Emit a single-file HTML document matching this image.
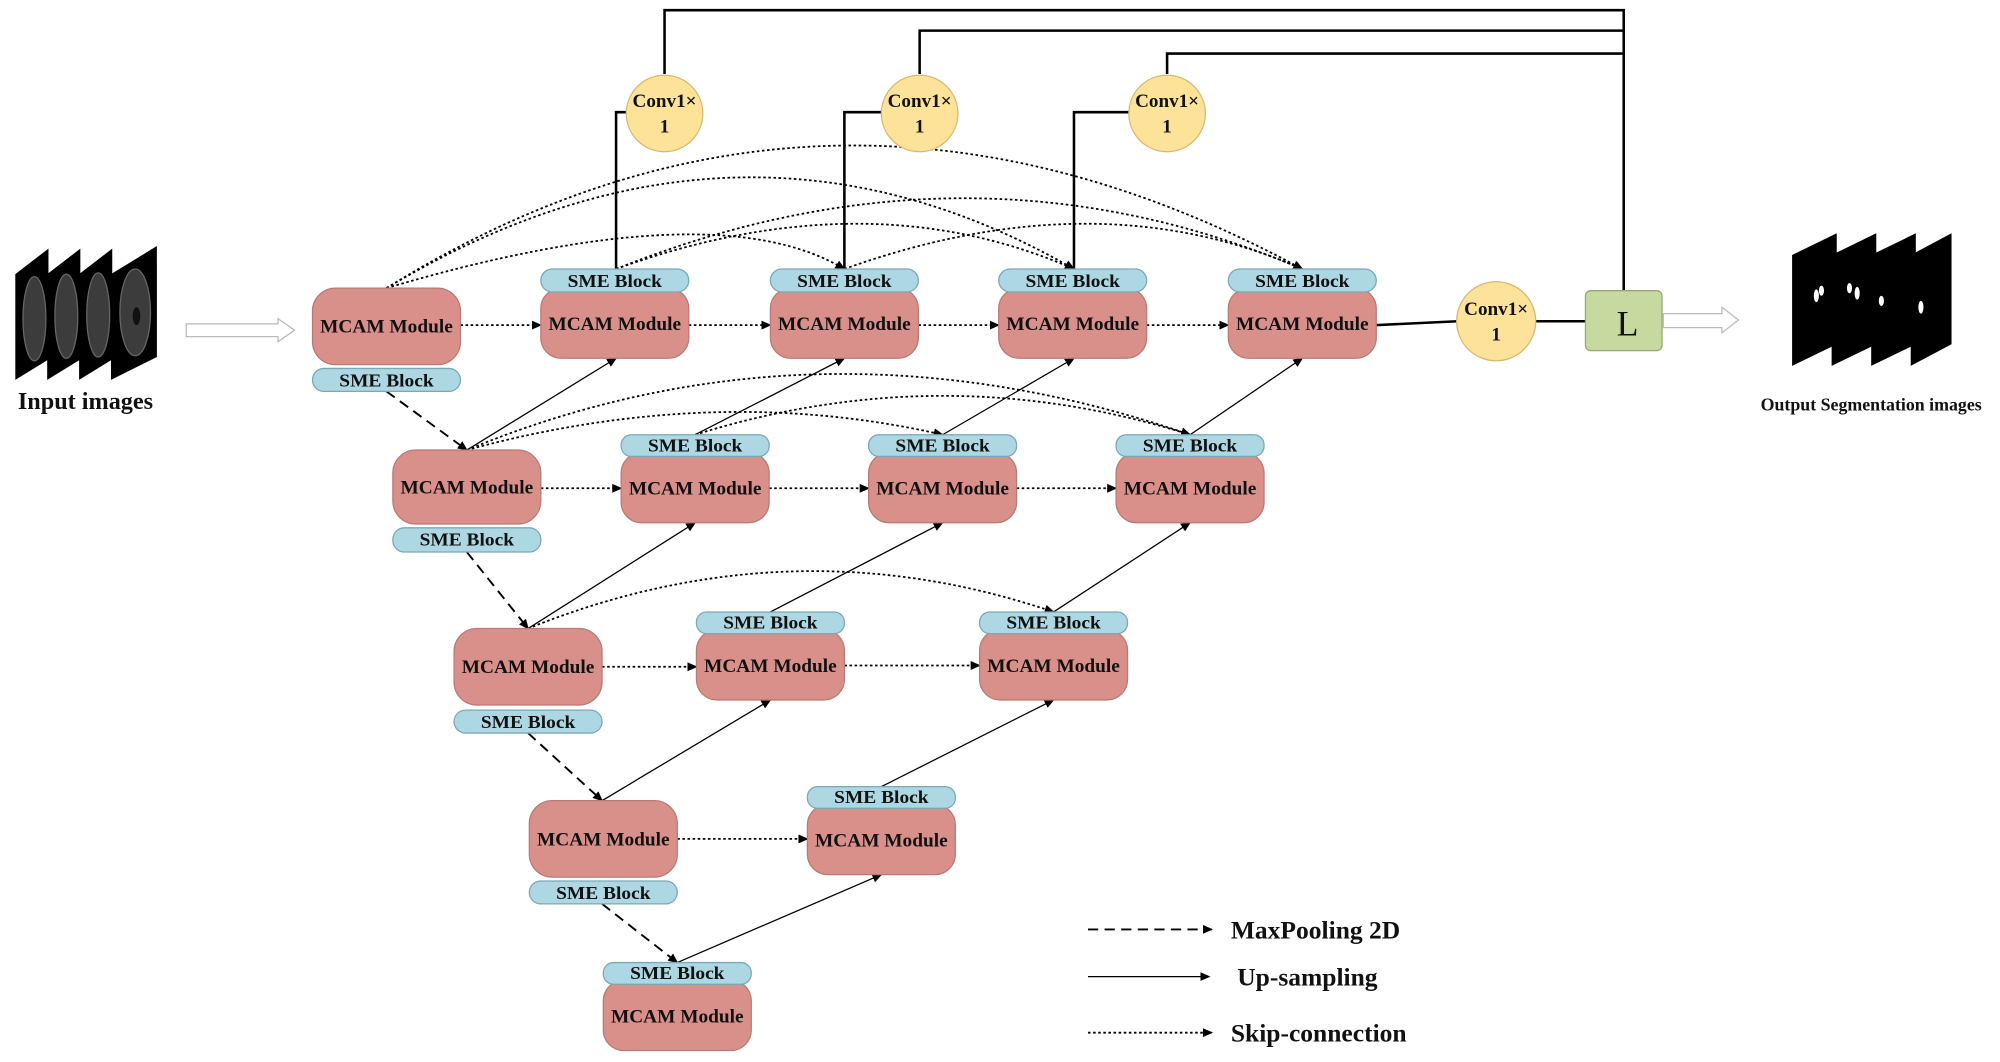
<!DOCTYPE html>
<html><head><meta charset="utf-8"><style>
html,body{margin:0;padding:0;background:#fff}
svg{display:block}
text{font-family:"Liberation Serif",serif;font-weight:bold;fill:#111}
</style></head><body>
<svg width="2000" height="1062" viewBox="0 0 1568 833" preserveAspectRatio="none" xmlns="http://www.w3.org/2000/svg">
<defs>
<marker id="a" markerWidth="8" markerHeight="8" refX="7" refY="4" orient="auto" markerUnits="userSpaceOnUse"><path d="M0,0.5 L8,4 L0,7.5 Z" fill="#000"/></marker>
</defs>
<rect width="1568" height="833" fill="#fff"/>

<!-- input images -->
<g fill="#000">
<path d="M12,215 L38,195 L38,282 L12,298 Z"/>
<path d="M37,215 L63,195 L63,282 L37,298 Z"/>
<path d="M62,215 L88,195 L88,282 L62,298 Z"/>
<path d="M87,215 L123,193 L123,280 L87,298 Z"/>
</g>
<g fill="#3c3c3c" stroke="#666" stroke-width="1">
<ellipse cx="27" cy="250" rx="9" ry="33"/>
<ellipse cx="52" cy="248" rx="9" ry="33"/>
<ellipse cx="77" cy="247" rx="9" ry="33"/>
<ellipse cx="106" cy="245" rx="12" ry="34"/>
</g>
<g fill="#111"><ellipse cx="107" cy="248" rx="3" ry="7"/></g>
<text x="67" y="321" font-size="19" text-anchor="middle">Input images</text>

<!-- hollow arrows -->
<path d="M146,254 H218 V250 L231,259 L218,268 V264 H146 Z" fill="#fff" stroke="#bbb" stroke-width="1"/>
<path d="M1304,246 H1350 V241 L1363,251 L1350,261 V257 H1304 Z" fill="#fff" stroke="#bbb" stroke-width="1"/>

<!-- output images -->
<g fill="#000">
<path d="M1405,200 L1440,183 L1440,270 L1405,287 Z"/>
<path d="M1436,200 L1471,183 L1471,270 L1436,287 Z"/>
<path d="M1467,200 L1502,183 L1502,270 L1467,287 Z"/>
<path d="M1498,200 L1530,183 L1530,270 L1498,287 Z"/>
</g>
<g fill="#fff">
<ellipse cx="1424" cy="232" rx="2" ry="5"/><ellipse cx="1428" cy="228" rx="2" ry="4"/>
<ellipse cx="1450" cy="226" rx="2" ry="4"/><ellipse cx="1456" cy="230" rx="2" ry="5"/>
<ellipse cx="1475" cy="236" rx="2" ry="4"/><ellipse cx="1506" cy="241" rx="2" ry="5"/>
</g>
<text x="1467" y="322" font-size="14" text-anchor="middle">Output Segmentation images</text>

<!-- top feedback lines -->
<g fill="none" stroke="#000" stroke-width="2">
<path d="M521,58 V8 H1273 V228"/>
<path d="M721,58 V24 H1273"/>
<path d="M915,58 V42 H1273"/>
<path d="M491,88 H483 V211"/>
<path d="M691,88 H662 V211"/>
<path d="M885,88 H842 V211"/>
<path d="M1079,255 L1143,252"/>
<path d="M1203,252 H1243"/>
</g>

<!-- skip curves (dotted) -->
<g fill="none" stroke="#000" stroke-width="1.4" stroke-dasharray="2,2" marker-end="url(#a)">
<path d="M303,226 Q560,150 662,211"/>
<path d="M303,226 Q580,60 842,211"/>
<path d="M303,226 Q650,10 1021,211"/>
<path d="M483,211 Q680,140 842,211"/>
<path d="M483,211 Q760,100 1021,211"/>
<path d="M662,211 Q860,140 1021,211"/>
<path d="M366,353 Q560,300 739,341"/>
<path d="M366,353 Q640,240 933,341"/>
<path d="M545,341 Q740,280 933,341"/>
<path d="M414,493 Q620,410 826,480"/>
<path d="M361,255 H424"/><path d="M540,255 H604"/><path d="M720,255 H783"/><path d="M899,255 H963"/>
<path d="M424,383 H487"/><path d="M603,383 H681"/><path d="M797,383 H875"/>
<path d="M472,523 H546"/><path d="M662,522 H768"/>
<path d="M531,658 H633"/>
</g>

<!-- up-sampling -->
<g fill="none" stroke="#000" stroke-width="1" marker-end="url(#a)">
<path d="M366,353 L483,281"/><path d="M545,341 L662,281"/><path d="M739,341 L842,281"/><path d="M933,341 L1021,281"/>
<path d="M414,493 L545,410"/><path d="M604,480 L739,410"/><path d="M826,480 L933,410"/>
<path d="M472,628 L604,549"/><path d="M691,617 L826,549"/>
<path d="M531,755 L691,686"/>
</g>
<!-- maxpool -->
<g fill="none" stroke="#000" stroke-width="1.5" stroke-dasharray="8,5" marker-end="url(#a)">
<path d="M303,307 L366,353"/><path d="M366,433 L414,493"/><path d="M414,575 L472,628"/><path d="M472,709 L531,755"/>
</g>

<!-- nodes -->
<g stroke="#b87a74" stroke-width="1" fill="#d9908a">
<rect x="245" y="226" width="116" height="60" rx="18"/>
<rect x="424" y="226" width="116" height="55" rx="16"/>
<rect x="604" y="226" width="116" height="55" rx="16"/>
<rect x="783" y="226" width="116" height="55" rx="16"/>
<rect x="963" y="226" width="116" height="55" rx="16"/>
<rect x="308" y="353" width="116" height="58" rx="18"/>
<rect x="487" y="355" width="116" height="55" rx="16"/>
<rect x="681" y="355" width="116" height="55" rx="16"/>
<rect x="875" y="355" width="116" height="55" rx="16"/>
<rect x="356" y="493" width="116" height="60" rx="18"/>
<rect x="546" y="494" width="116" height="55" rx="16"/>
<rect x="768" y="494" width="116" height="55" rx="16"/>
<rect x="415" y="628" width="116" height="60" rx="18"/>
<rect x="633" y="631" width="116" height="55" rx="16"/>
<rect x="473" y="769" width="116" height="55" rx="16"/>
</g>
<g stroke="#7aa8b8" stroke-width="1" fill="#add8e3">
<rect x="245" y="289" width="116" height="18" rx="9"/>
<rect x="424" y="211" width="116" height="18" rx="9"/>
<rect x="604" y="211" width="116" height="18" rx="9"/>
<rect x="783" y="211" width="116" height="18" rx="9"/>
<rect x="963" y="211" width="116" height="18" rx="9"/>
<rect x="308" y="414" width="116" height="19" rx="9"/>
<rect x="487" y="341" width="116" height="17" rx="8"/>
<rect x="681" y="341" width="116" height="17" rx="8"/>
<rect x="875" y="341" width="116" height="17" rx="8"/>
<rect x="356" y="557" width="116" height="18" rx="9"/>
<rect x="546" y="480" width="116" height="17" rx="8"/>
<rect x="768" y="480" width="116" height="17" rx="8"/>
<rect x="415" y="691" width="116" height="18" rx="9"/>
<rect x="633" y="617" width="116" height="17" rx="8"/>
<rect x="473" y="755" width="116" height="17" rx="8"/>
</g>
<g font-size="15" text-anchor="middle">
<text x="303" y="261" textLength="104" lengthAdjust="spacingAndGlyphs">MCAM Module</text>
<text x="482" y="259" textLength="104" lengthAdjust="spacingAndGlyphs">MCAM Module</text>
<text x="662" y="259" textLength="104" lengthAdjust="spacingAndGlyphs">MCAM Module</text>
<text x="841" y="259" textLength="104" lengthAdjust="spacingAndGlyphs">MCAM Module</text>
<text x="1021" y="259" textLength="104" lengthAdjust="spacingAndGlyphs">MCAM Module</text>
<text x="366" y="387" textLength="104" lengthAdjust="spacingAndGlyphs">MCAM Module</text>
<text x="545" y="388" textLength="104" lengthAdjust="spacingAndGlyphs">MCAM Module</text>
<text x="739" y="388" textLength="104" lengthAdjust="spacingAndGlyphs">MCAM Module</text>
<text x="933" y="388" textLength="104" lengthAdjust="spacingAndGlyphs">MCAM Module</text>
<text x="414" y="528" textLength="104" lengthAdjust="spacingAndGlyphs">MCAM Module</text>
<text x="604" y="527" textLength="104" lengthAdjust="spacingAndGlyphs">MCAM Module</text>
<text x="826" y="527" textLength="104" lengthAdjust="spacingAndGlyphs">MCAM Module</text>
<text x="473" y="663" textLength="104" lengthAdjust="spacingAndGlyphs">MCAM Module</text>
<text x="691" y="664" textLength="104" lengthAdjust="spacingAndGlyphs">MCAM Module</text>
<text x="531" y="802" textLength="104" lengthAdjust="spacingAndGlyphs">MCAM Module</text>
</g>
<g font-size="14" text-anchor="middle">
<text x="303" y="303" textLength="74" lengthAdjust="spacingAndGlyphs">SME Block</text>
<text x="482" y="225" textLength="74" lengthAdjust="spacingAndGlyphs">SME Block</text>
<text x="662" y="225" textLength="74" lengthAdjust="spacingAndGlyphs">SME Block</text>
<text x="841" y="225" textLength="74" lengthAdjust="spacingAndGlyphs">SME Block</text>
<text x="1021" y="225" textLength="74" lengthAdjust="spacingAndGlyphs">SME Block</text>
<text x="366" y="428" textLength="74" lengthAdjust="spacingAndGlyphs">SME Block</text>
<text x="545" y="354" textLength="74" lengthAdjust="spacingAndGlyphs">SME Block</text>
<text x="739" y="354" textLength="74" lengthAdjust="spacingAndGlyphs">SME Block</text>
<text x="933" y="354" textLength="74" lengthAdjust="spacingAndGlyphs">SME Block</text>
<text x="414" y="571" textLength="74" lengthAdjust="spacingAndGlyphs">SME Block</text>
<text x="604" y="493" textLength="74" lengthAdjust="spacingAndGlyphs">SME Block</text>
<text x="826" y="493" textLength="74" lengthAdjust="spacingAndGlyphs">SME Block</text>
<text x="473" y="705" textLength="74" lengthAdjust="spacingAndGlyphs">SME Block</text>
<text x="691" y="630" textLength="74" lengthAdjust="spacingAndGlyphs">SME Block</text>
<text x="531" y="768" textLength="74" lengthAdjust="spacingAndGlyphs">SME Block</text>
</g>

<!-- conv circles -->
<g fill="#fde39a" stroke="#d8b870" stroke-width="1">
<circle cx="521" cy="89" r="30"/><circle cx="721" cy="89" r="30"/><circle cx="915" cy="89" r="30"/><circle cx="1173" cy="252" r="31"/>
</g>
<g font-size="15" text-anchor="middle">
<text x="521" y="84">Conv1×</text><text x="521" y="104">1</text>
<text x="721" y="84">Conv1×</text><text x="721" y="104">1</text>
<text x="915" y="84">Conv1×</text><text x="915" y="104">1</text>
<text x="1173" y="247">Conv1×</text><text x="1173" y="267">1</text>
</g>
<rect x="1243" y="228" width="60" height="47" rx="4" fill="#c6daa0" stroke="#93ab70" stroke-width="1"/>
<text x="1276" y="263" font-size="28" text-anchor="middle" style="font-weight:normal">L</text>

<!-- legend -->
<g fill="none" stroke="#000" marker-end="url(#a)">
<path d="M853,729 H950" stroke-width="1.5" stroke-dasharray="8,5"/>
<path d="M853,766 H948" stroke-width="1"/>
<path d="M853,810 H950" stroke-width="1.4" stroke-dasharray="2,2"/>
</g>
<g font-size="20">
<text x="965" y="736">MaxPooling 2D</text>
<text x="970" y="773">Up-sampling</text>
<text x="965" y="817">Skip-connection</text>
</g>
</svg>
</body></html>
